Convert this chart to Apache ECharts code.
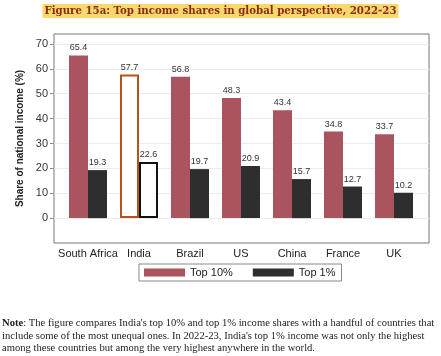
<!DOCTYPE html>
<html><head><meta charset="utf-8">
<script src="https://cdn.jsdelivr.net/npm/echarts@6/dist/echarts.min.js"></script>
<style>html,body{margin:0;padding:0;background:#fff}#c{width:441px;height:356px}</style>
</head><body><div id="c"></div>
<script>
const categories = ['South Africa', 'India', 'Brazil', 'US', 'China', 'France', 'UK'];
const top10 = [65.4, 57.7, 56.8, 48.3, 43.4, 34.8, 33.7];
const top1 = [19.3, 22.6, 19.7, 20.9, 15.7, 12.7, 10.2];
const yTicks = [0, 10, 20, 30, 40, 50, 60, 70];
const highlight = 'India';

const RED = '#a9545f', DARK = '#2e2e2e';
function styled(vals, fill, hiBorder) {
  return vals.map((v, i) => categories[i] === highlight
    ? { value: v, itemStyle: { color: '#fff', borderColor: hiBorder, borderWidth: 2 } }
    : { value: v, itemStyle: { color: fill } });
}
const labelCfg = { show: true, position: 'top', distance: 3, fontSize: 9, color: '#333', fontFamily: 'Liberation Sans', formatter: p => p.value.toFixed(1) };

const chart = echarts.init(document.getElementById('c'), null, { renderer: 'canvas' });
chart.setOption({
  animation: false,
  backgroundColor: '#fff',
  title: [{
    text: 'Figure 15a: Top income shares in global perspective, 2022-23',
    left: 'center', top: 4,
    padding: [2, 2],
    backgroundColor: '#f9d86e',
    textStyle: { fontFamily: 'DejaVu Serif', fontWeight: 'bold', fontSize: 10.2, color: '#8a2c12' }
  }, {
    text: '{b|Note}: The figure compares India\'s top 10% and top 1% income shares with a handful of countries that\ninclude some of the most unequal ones. In 2022-23, India\'s top 1% income was not only the highest\namong these countries but among the very highest anywhere in the world.',
    left: 2, top: 317, padding: 0,
    textStyle: { fontFamily: 'Liberation Serif', fontSize: 10.6, color: '#222', fontWeight: 'normal', lineHeight: 12.5,
      rich: { b: { fontFamily: 'Liberation Serif', fontSize: 10.6, fontWeight: 'bold', color: '#222' } } }
  }],
  legend: {
    data: ['Top 10%', 'Top 1%'],
    left: 139, top: 264, width: 204,
    padding: [3, 6, 3, 5],
    itemGap: 20,
    borderColor: '#888', borderWidth: 1,
    icon: 'rect', itemWidth: 41, itemHeight: 8,
    textStyle: { fontSize: 11, color: '#222', fontFamily: 'Liberation Sans' }
  },
  grid: [
    { left: 54, right: 12, top: 34, bottom: 113, show: true, borderColor: '#777', borderWidth: 1, backgroundColor: 'transparent' },
    { left: 62.5, right: 21.5, top: 34, bottom: 113 }
  ],
  xAxis: [
    { type: 'value', gridIndex: 0, show: false, min: 0, max: 1 },
    { type: 'category', gridIndex: 1, data: categories,
      axisLine: { show: false }, axisTick: { show: false },
      axisLabel: { margin: 5, fontSize: 11, color: '#222', fontFamily: 'Liberation Sans', interval: 0 } }
  ],
  yAxis: [
    { type: 'value', gridIndex: 0, min: -10, max: 74, interval: 10,
      name: 'Share of national income (%)', nameLocation: 'middle', nameGap: 27,
      nameTextStyle: { fontSize: 10, fontWeight: 'bold', color: '#222', fontFamily: 'Liberation Sans' },
      axisLine: { show: false },
      axisTick: { show: true, length: 4, lineStyle: { color: '#888' }, customValues: yTicks },
      axisLabel: { fontSize: 11, color: '#333', margin: 6, fontFamily: 'Liberation Sans', customValues: yTicks },
      splitLine: { show: true, lineStyle: { color: '#ececec', width: 1 } } },
    { type: 'value', gridIndex: 1, min: -10, max: 74, show: false, splitLine: { show: false } }
  ],
  series: [
    { name: 'Top 10%', type: 'bar', xAxisIndex: 1, yAxisIndex: 1, barWidth: 19, barGap: '0%',
      itemStyle: { color: RED }, data: styled(top10, RED, '#b4531c'), label: labelCfg },
    { name: 'Top 1%', type: 'bar', xAxisIndex: 1, yAxisIndex: 1, barWidth: 19, barGap: '0%',
      itemStyle: { color: DARK }, data: styled(top1, DARK, '#111'), label: labelCfg }
  ]
});
</script></body></html>
